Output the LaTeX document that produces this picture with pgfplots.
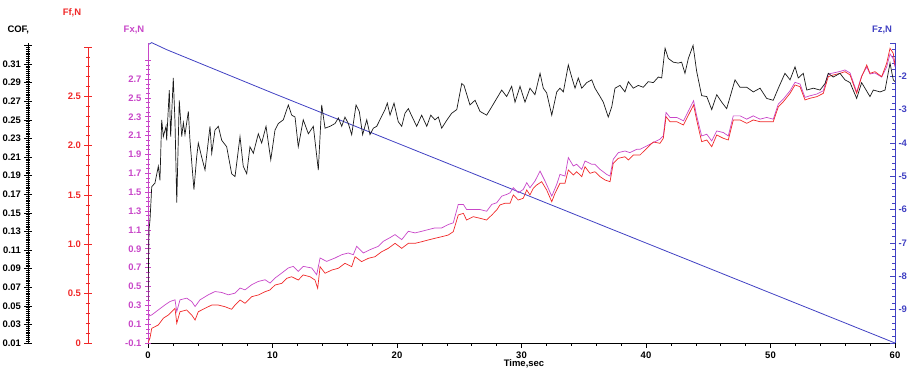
\documentclass[border=0pt]{standalone}
\usepackage{fontspec}
\setmainfont{Liberation Sans}
\usepackage{pgfplots}
\pgfplotsset{compat=1.18}
\definecolor{cofblack}{RGB}{25,25,25}
\definecolor{ffred}{RGB}{240,40,40}
\definecolor{fxmag}{RGB}{200,70,200}
\definecolor{fzblue}{RGB}{65,65,195}
\begin{document}
\begin{tikzpicture}[font=\fontsize{9.5}{11}\selectfont\bfseries]
\useasboundingbox (0,0) rectangle (909bp,371bp);
\pgfplotsset{
  plotbox/.style={scale only axis, width=747bp, height=300bp, xmin=0, xmax=60,
    at={(148bp,28bp)}, anchor=south west},
  tick label style={font=\fontsize{9.5}{11}\selectfont\bfseries},
}
% ---------- time axis ----------
\begin{axis}[plotbox, ymin=0, ymax=1, hide y axis, axis x line*=bottom,
  axis line style={-, black, line width=0.8bp},
  xtick={0,10,20,30,40,50,60}, xticklabels={0,10,20,30,40,50,60},
  minor x tick num=4, tick align=outside, tick style={black, line width=0.6bp},
  major tick length=5bp, minor tick length=3bp]
\end{axis}
% ---------- Fz (right) ----------
\begin{axis}[plotbox, ymin=-10, ymax=-1, hide x axis, axis y line*=right,
  axis line style={-, fzblue, line width=0.8bp},
  ytick={-10,-9,-8,-7,-6,-5,-4,-3,-2,-1},
  yticklabels={{},-9,-8,-7,-6,-5,-4,-3,-2,{}},
  minor y tick num=4, tick align=inside, tick style={fzblue, line width=0.6bp},
  major tick length=5bp, minor tick length=3bp,
  tick label style={text=fzblue}]
\addplot[fzblue, line width=0.8bp] coordinates {
(0,-1.05)(0.3,-0.99)(1.5,-1.2)(10,-2.5)(20,-4.0)(30,-5.5)(40,-7.0)(50,-8.5)(60,-10.0)};
\end{axis}
% ---------- Fx (magenta) ----------
\begin{axis}[plotbox, ymin=-0.1, ymax=3.083, hide x axis, axis y line*=left,
  axis line style={-, fxmag, line width=0.8bp},
  ytick={-0.1,0.1,0.3,0.5,0.7,0.9,1.1,1.3,1.5,1.7,1.9,2.1,2.3,2.5,2.7,2.9},
  yticklabels={-0.1,0.1,0.3,0.5,0.7,0.9,1.1,1.3,1.5,1.7,1.9,2.1,2.3,2.5,2.7,{}},
  minor y tick num=3, tick align=center, tick style={fxmag, line width=0.6bp},
  major tick length=6bp, minor tick length=4bp,
  tick label style={text=fxmag}]
\addplot[fxmag, line width=0.7bp] coordinates {
(0.00,0.10)(0.08,0.188)(0.30,0.198)(0.83,0.251)(1.37,0.305)(1.77,0.340)(2.17,0.358)(2.31,0.233)(2.57,0.358)(3.11,0.376)(3.51,0.340)(3.78,0.287)(4.18,0.358)(4.84,0.411)(5.38,0.446)(5.92,0.436)(6.45,0.411)(6.99,0.429)(7.39,0.483)(7.79,0.464)(8.33,0.518)(8.86,0.553)(9.40,0.571)(9.80,0.536)(10.20,0.589)(10.74,0.642)(11.27,0.696)(11.67,0.713)(12.07,0.659)(12.47,0.713)(13.15,0.696)(13.55,0.624)(13.82,0.802)(14.35,0.766)(15.02,0.802)(15.56,0.837)(16.09,0.855)(16.49,0.837)(16.76,0.926)(17.29,0.855)(17.83,0.890)(18.50,0.926)(18.90,0.979)(19.44,1.018)(19.84,1.050)(20.38,0.997)(20.91,1.085)(21.45,1.068)(21.98,1.085)(22.51,1.103)(23.05,1.121)(23.59,1.121)(24.12,1.157)(24.52,1.175)(24.92,1.370)(25.33,1.370)(25.59,1.316)(26.13,1.316)(26.67,1.316)(27.20,1.298)(27.61,1.370)(28.01,1.388)(28.41,1.458)(28.81,1.476)(29.08,1.494)(29.34,1.547)(29.74,1.494)(30.14,1.529)(30.42,1.601)(30.68,1.547)(31.08,1.618)(31.49,1.724)(31.89,1.618)(32.43,1.458)(32.83,1.583)(33.09,1.689)(33.49,1.671)(33.76,1.867)(34.16,1.778)(34.43,1.796)(34.84,1.742)(35.10,1.831)(35.64,1.796)(35.90,1.796)(36.31,1.742)(36.84,1.689)(37.11,1.671)(37.37,1.849)(37.78,1.920)(38.31,1.937)(38.71,1.920)(39.25,1.955)(39.52,1.955)(40.06,1.991)(40.59,2.027)(41.12,2.062)(41.39,2.097)(41.61,2.346)(41.93,2.293)(42.47,2.293)(43.01,2.257)(43.41,2.363)(43.82,2.470)(44.07,2.310)(44.47,2.097)(44.88,2.115)(45.28,2.044)(45.68,2.150)(46.21,2.133)(46.61,2.097)(47.01,2.310)(47.55,2.310)(48.09,2.275)(48.62,2.310)(49.16,2.275)(49.69,2.293)(50.22,2.275)(50.63,2.435)(51.03,2.488)(51.57,2.576)(51.97,2.666)(52.37,2.648)(52.77,2.506)(53.17,2.523)(53.71,2.541)(54.24,2.576)(54.64,2.754)(55.04,2.765)(55.58,2.781)(55.98,2.797)(56.39,2.765)(56.92,2.562)(57.32,2.733)(57.73,2.829)(57.99,2.754)(58.39,2.765)(58.93,2.722)(59.33,2.829)(59.60,2.967)(59.86,2.914)(60.00,2.829)};
\end{axis}
% ---------- Ff data (red) ----------
\begin{axis}[plotbox, ymin=0, ymax=3.0426, hide axis]
\addplot[ffred, line width=0.7bp] coordinates {
(0.00,0.00)(0.16,0.05)(0.30,0.149)(0.83,0.183)(1.23,0.251)(1.63,0.284)(1.90,0.317)(2.17,0.352)(2.31,0.200)(2.57,0.317)(3.11,0.335)(3.51,0.284)(3.78,0.233)(4.04,0.317)(4.58,0.352)(5.12,0.385)(5.65,0.385)(6.18,0.368)(6.72,0.342)(6.99,0.385)(7.39,0.436)(7.79,0.403)(8.33,0.470)(8.86,0.487)(9.40,0.520)(9.80,0.538)(10.20,0.588)(10.74,0.605)(11.14,0.656)(11.54,0.672)(12.07,0.639)(12.47,0.690)(13.01,0.672)(13.41,0.639)(13.63,0.555)(13.82,0.774)(14.22,0.707)(14.76,0.740)(15.29,0.758)(15.82,0.808)(16.36,0.774)(16.63,0.875)(17.16,0.825)(17.70,0.859)(18.23,0.875)(18.77,0.926)(19.30,0.960)(19.84,1.011)(20.38,0.960)(20.91,1.011)(21.45,1.011)(21.98,1.027)(22.51,1.045)(23.05,1.062)(23.59,1.078)(24.12,1.095)(24.52,1.129)(24.92,1.298)(25.33,1.315)(25.59,1.247)(26.13,1.281)(26.67,1.265)(27.20,1.247)(27.61,1.298)(28.01,1.349)(28.27,1.400)(28.67,1.417)(29.08,1.417)(29.34,1.501)(29.74,1.450)(30.14,1.468)(30.42,1.552)(30.68,1.501)(30.95,1.569)(31.22,1.602)(31.62,1.636)(32.02,1.552)(32.43,1.433)(32.69,1.518)(33.09,1.620)(33.49,1.620)(33.76,1.755)(34.16,1.704)(34.43,1.737)(34.84,1.687)(35.10,1.788)(35.50,1.721)(35.90,1.737)(36.31,1.687)(36.71,1.653)(37.11,1.636)(37.37,1.823)(37.78,1.873)(38.31,1.889)(38.58,1.856)(38.98,1.907)(39.52,1.907)(40.06,1.975)(40.59,2.039)(41.12,2.025)(41.39,2.076)(41.61,2.295)(41.93,2.244)(42.47,2.244)(43.01,2.211)(43.41,2.312)(43.82,2.414)(44.07,2.262)(44.47,2.042)(44.88,2.059)(45.28,1.991)(45.68,2.110)(46.21,2.076)(46.61,2.059)(47.01,2.262)(47.55,2.262)(48.09,2.228)(48.62,2.262)(49.16,2.244)(49.69,2.244)(50.22,2.244)(50.63,2.397)(51.03,2.447)(51.57,2.532)(51.97,2.617)(52.37,2.599)(52.77,2.465)(53.17,2.482)(53.71,2.498)(54.24,2.532)(54.64,2.701)(55.04,2.718)(55.58,2.735)(55.98,2.752)(56.39,2.718)(56.92,2.532)(57.32,2.701)(57.73,2.819)(57.99,2.735)(58.39,2.752)(58.93,2.701)(59.33,2.837)(59.60,2.989)(59.86,2.938)(60.00,2.819)};
\end{axis}
% ---------- COF data (black) ----------
\begin{axis}[plotbox, ymin=0.01, ymax=0.3326, hide axis]
\addplot[cofblack, line width=0.7bp] coordinates {
(0.00,0.056)(0.08,0.132)(0.16,0.142)(0.30,0.178)(0.56,0.182)(0.83,0.200)(0.96,0.185)(1.10,0.250)(1.23,0.232)(1.45,0.243)(1.50,0.228)(1.71,0.282)(1.82,0.232)(2.03,0.295)(2.17,0.247)(2.31,0.161)(2.51,0.271)(2.71,0.232)(2.84,0.247)(2.97,0.234)(3.24,0.259)(3.37,0.228)(3.69,0.175)(3.91,0.210)(4.04,0.225)(4.31,0.210)(4.58,0.196)(4.98,0.243)(5.12,0.214)(5.38,0.239)(5.65,0.243)(5.92,0.228)(6.32,0.221)(6.72,0.192)(6.99,0.189)(7.39,0.232)(7.65,0.200)(7.93,0.192)(8.19,0.221)(8.46,0.214)(8.86,0.235)(9.13,0.225)(9.48,0.243)(9.86,0.207)(10.20,0.239)(10.47,0.246)(10.87,0.250)(11.27,0.266)(11.54,0.255)(11.81,0.253)(12.07,0.221)(12.47,0.250)(12.88,0.235)(13.28,0.243)(13.68,0.196)(13.95,0.266)(14.22,0.241)(14.62,0.243)(15.02,0.246)(15.29,0.252)(15.56,0.243)(15.82,0.253)(16.09,0.246)(16.36,0.234)(16.71,0.266)(16.97,0.259)(17.24,0.234)(17.57,0.250)(17.83,0.234)(18.10,0.241)(18.37,0.243)(18.63,0.250)(19.04,0.261)(19.22,0.268)(19.44,0.255)(19.76,0.268)(20.10,0.248)(20.38,0.243)(20.64,0.257)(20.91,0.262)(21.26,0.252)(21.58,0.243)(21.98,0.255)(22.39,0.243)(22.71,0.255)(23.05,0.250)(23.32,0.253)(23.59,0.241)(24.02,0.250)(24.39,0.257)(24.80,0.261)(25.20,0.289)(25.38,0.287)(25.86,0.266)(26.27,0.271)(26.67,0.259)(27.20,0.255)(27.61,0.264)(28.41,0.282)(28.81,0.275)(29.21,0.286)(29.48,0.269)(29.88,0.286)(30.28,0.269)(30.68,0.284)(31.08,0.277)(31.49,0.300)(31.75,0.284)(32.02,0.279)(32.43,0.255)(32.83,0.280)(33.09,0.284)(33.36,0.280)(33.76,0.309)(34.03,0.296)(34.30,0.284)(34.56,0.295)(34.84,0.284)(35.24,0.290)(35.64,0.293)(35.90,0.284)(36.31,0.275)(36.57,0.269)(36.97,0.253)(37.25,0.264)(37.51,0.284)(37.91,0.287)(38.31,0.280)(38.58,0.291)(38.98,0.284)(39.38,0.287)(39.78,0.285)(40.18,0.291)(40.59,0.290)(40.99,0.296)(41.26,0.295)(41.53,0.327)(41.79,0.316)(42.19,0.312)(42.59,0.311)(42.86,0.312)(43.13,0.300)(43.40,0.316)(43.78,0.330)(44.07,0.302)(44.47,0.276)(44.88,0.275)(45.28,0.261)(45.68,0.277)(46.08,0.269)(46.48,0.262)(47.15,0.293)(47.55,0.285)(48.09,0.285)(48.62,0.280)(49.16,0.284)(49.69,0.273)(50.22,0.271)(50.63,0.284)(51.16,0.300)(51.57,0.293)(51.97,0.307)(52.23,0.295)(52.63,0.300)(52.91,0.282)(53.44,0.284)(53.98,0.282)(54.38,0.289)(54.64,0.300)(55.04,0.296)(55.58,0.300)(55.98,0.293)(56.39,0.290)(56.92,0.273)(57.32,0.290)(57.99,0.275)(58.26,0.282)(58.80,0.280)(59.20,0.282)(59.60,0.311)(59.86,0.293)(60.00,0.291)};
\end{axis}
% ---------- Ff display axis ----------
\begin{axis}[scale only axis, width=1bp, height=296bp, at={(88bp,28bp)}, anchor=south west,
  xmin=0, xmax=1, ymin=0, ymax=3, hide x axis, axis y line*=left,
  axis line style={-, ffred, line width=0.8bp},
  ytick={0,0.5,1,1.5,2,2.5,3}, yticklabels={0,0.5,1.0,1.5,2.0,2.5,{}},
  minor y tick num=4, tick align=center, tick style={ffred, line width=0.6bp},
  major tick length=7bp, minor tick length=4bp,
  tick label style={text=ffred}]
\end{axis}
% ---------- COF display axis ----------
\begin{axis}[scale only axis, width=1bp, height=300bp, at={(28bp,28bp)}, anchor=south west,
  xmin=0, xmax=1, ymin=0.01, ymax=0.3326, hide x axis, axis y line*=left,
  axis line style={-, black, line width=0.8bp},
  ytick={0.01,0.03,0.05,0.07,0.09,0.11,0.13,0.15,0.17,0.19,0.21,0.23,0.25,0.27,0.29,0.31,0.33},
  yticklabels={0.01,0.03,0.05,0.07,0.09,0.11,0.13,0.15,0.17,0.19,0.21,0.23,0.25,0.27,0.29,0.31,{}},
  minor y tick num=9, tick align=center, tick style={black, line width=0.5bp},
  major tick length=7bp, minor tick length=4bp,
  tick label style={text=black}]
\end{axis}
% ---------- axis titles ----------
\node[anchor=west, text=black] at (4bp,341bp) {COF,};
\node[text=ffred] at (72bp,358bp) {Ff,N};
\node[text=fxmag] at (134bp,341bp) {Fx,N};
\node[text=fzblue] at (882bp,341bp) {Fz,N};
\node[text=black] at (524bp,7bp) {Time,sec};
\end{tikzpicture}
\end{document}
